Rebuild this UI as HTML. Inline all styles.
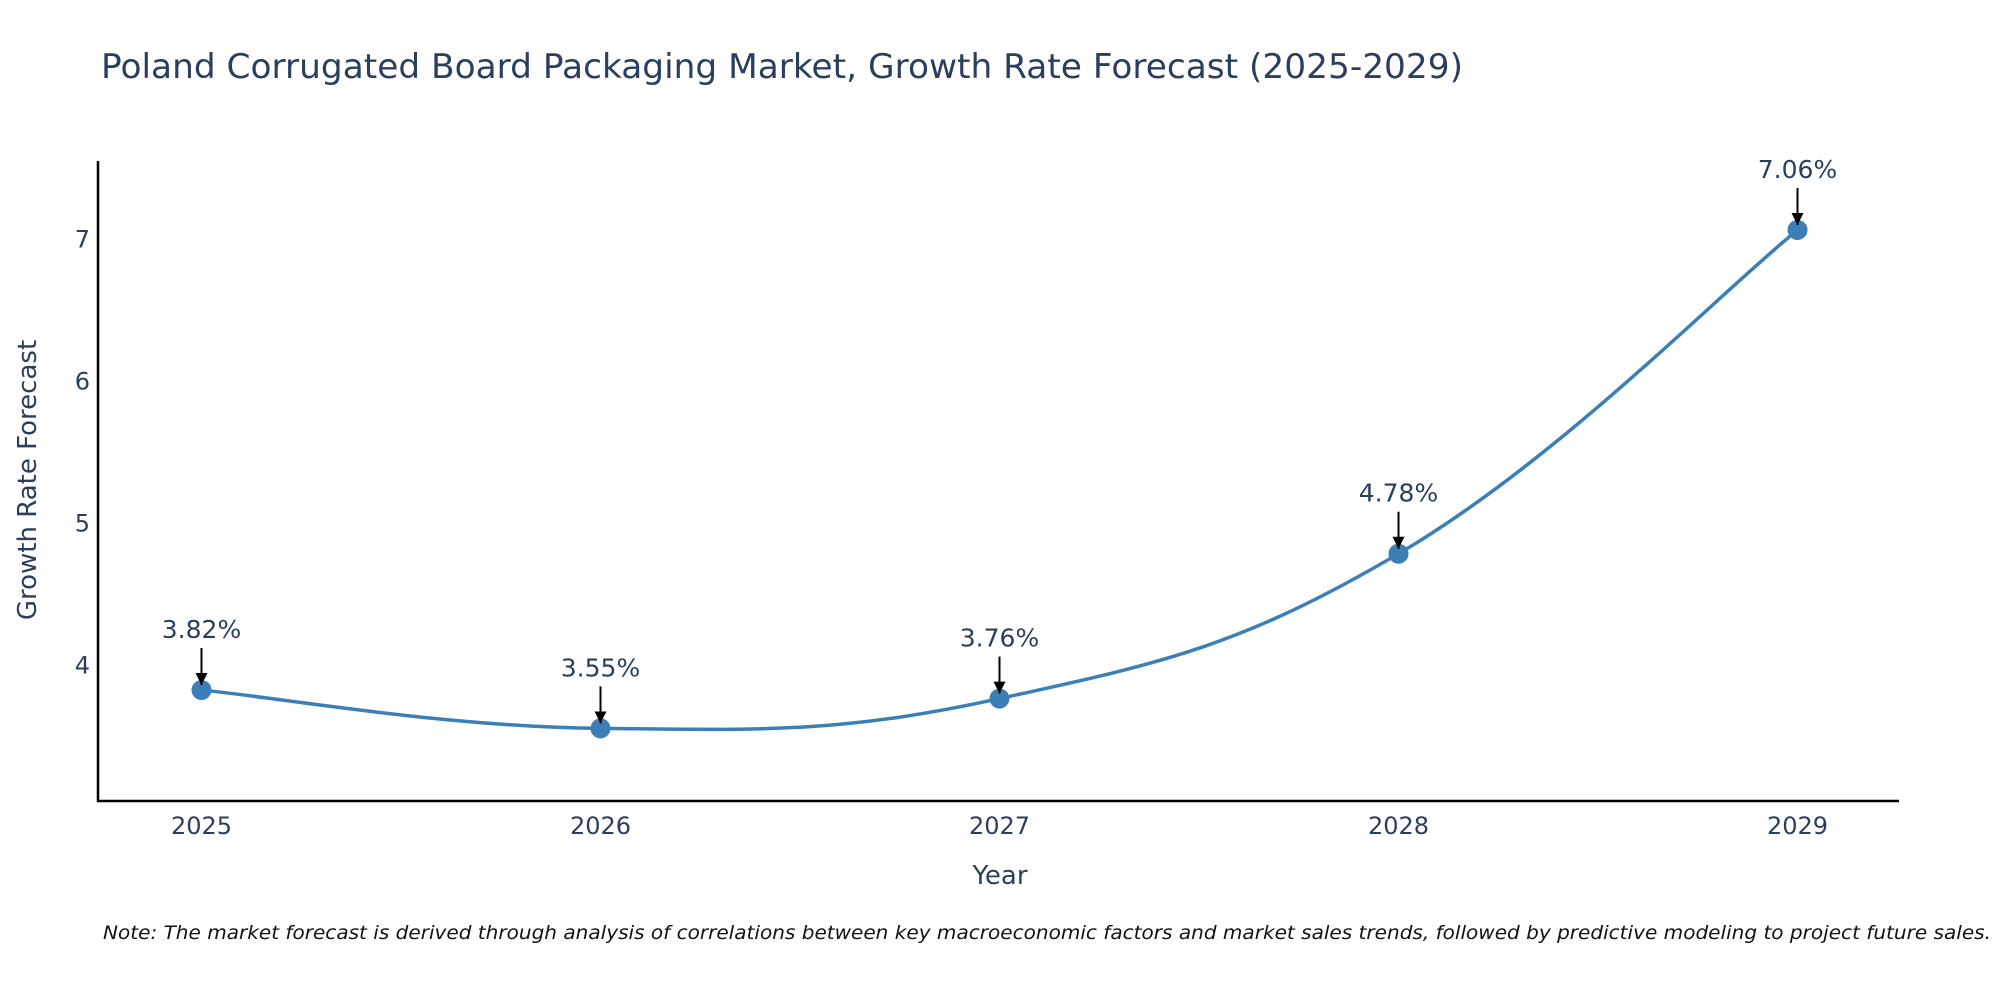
<!DOCTYPE html>
<html><head><meta charset="utf-8"><style>
body{margin:0;background:#fff;}
svg{display:block;font-family:"DejaVu Sans","Liberation Sans",sans-serif;}
</style></head><body>
<svg width="2000" height="1000" viewBox="0 0 2000 1000">
<defs><marker id="ah" markerWidth="12" markerHeight="12" refX="10" refY="5" orient="auto" markerUnits="userSpaceOnUse" viewBox="0 0 10 10"><path d="M0,0 L10,5 L0,10 Z" fill="#000"/></marker></defs>
<text x="101" y="78" font-size="34" fill="#2a3f5f" textLength="1362" lengthAdjust="spacingAndGlyphs">Poland Corrugated Board Packaging Market, Growth Rate Forecast (2025-2029)</text>
<g id="plot"></g>
<text x="1000" y="884" font-size="26" fill="#2a3f5f" text-anchor="middle">Year</text>
<text x="36" y="480" font-size="26" fill="#2a3f5f" text-anchor="middle" transform="rotate(-90 36 480)">Growth Rate Forecast</text>
<text x="103" y="939" font-size="19" font-style="italic" fill="#111" textLength="1888" lengthAdjust="spacingAndGlyphs">Note: The market forecast is derived through analysis of correlations between key macroeconomic factors and market sales trends, followed by predictive modeling to project future sales.</text>
</svg>
<script>
const years = [2025, 2026, 2027, 2028, 2029];
const rates = [3.82, 3.55, 3.76, 4.78, 7.06];
const labels = ["3.82%", "3.55%", "3.76%", "4.78%", "7.06%"];
const yTicks = [4, 5, 6, 7];

const NS = "http://www.w3.org/2000/svg";
const g = document.getElementById("plot");
const xS = v => 201.5 + (v - 2025) * 399;
const yS = v => 664.5 - (v - 4) * 142;
function mk(tag, attrs, parent) {
  const e = document.createElementNS(NS, tag);
  for (const k in attrs) e.setAttribute(k, attrs[k]);
  (parent || g).appendChild(e);
  return e;
}
let ax = mk("line", {x1: 98, y1: 161, x2: 98, y2: 802, stroke: "#000", "stroke-width": 2.5});


ax = mk("line", {x1: 97, y1: 801, x2: 1899, y2: 801, stroke: "#000", "stroke-width": 2.5});


yTicks.forEach(t => {
  const tx = mk("text", {x: 90, y: yS(t) + 9, "font-size": 24, fill: "#2a3f5f", "text-anchor": "end"});
  tx.textContent = t;
  
  
});
years.forEach(y => {
  const tx = mk("text", {x: xS(y), y: 834, "font-size": 24, fill: "#2a3f5f", "text-anchor": "middle"});
  tx.textContent = y;
  
  
});
const pts = years.map((y, i) => [xS(y), yS(rates[i])]);
let d = "M" + pts[0][0] + "," + pts[0][1];
const s = 1 / 5;
for (let i = 0; i < pts.length - 1; i++) {
  const p0 = pts[Math.max(i - 1, 0)], p1 = pts[i], p2 = pts[i + 1], p3 = pts[Math.min(i + 2, pts.length - 1)];
  const c1 = [p1[0] + (p2[0] - p0[0]) * s, p1[1] + (p2[1] - p0[1]) * s];
  const c2 = [p2[0] - (p3[0] - p1[0]) * s, p2[1] - (p3[1] - p1[1]) * s];
  d += " C" + c1 + " " + c2 + " " + p2;
}
const line = mk("path", {d: d, fill: "none", stroke: "#3b7fb6", "stroke-width": 3.5});


pts.forEach((p, i) => {
  const c = mk("circle", {cx: p[0], cy: p[1], r: 10, fill: "#3b7fb6"});
  
  
  const a = mk("line", {x1: p[0], y1: p[1] - 42, x2: p[0], y2: p[1] - 5, stroke: "#000", "stroke-width": 2, "marker-end": "url(#ah)"});
  
  
  const t = mk("text", {x: p[0], y: p[1] - 52, "font-size": 25, fill: "#2a3f5f", "text-anchor": "middle"});
  t.textContent = labels[i];
  
  
});
</script>
</body></html>
